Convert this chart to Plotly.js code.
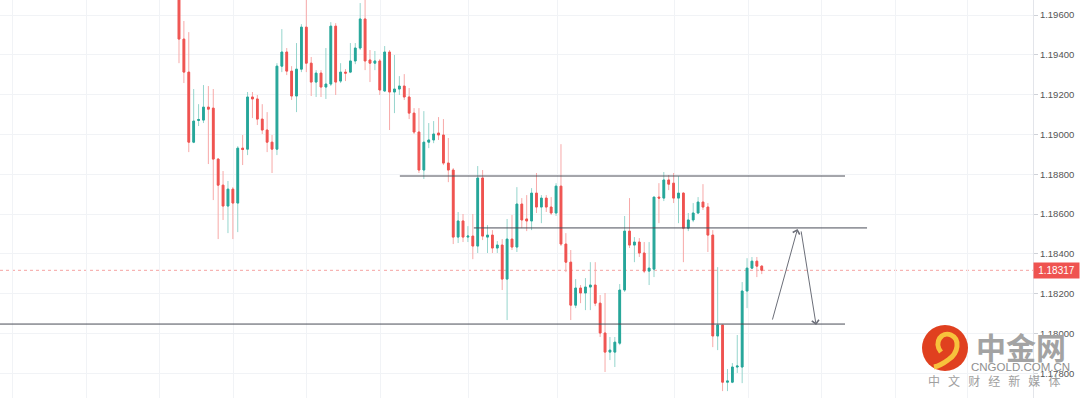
<!DOCTYPE html>
<html><head><meta charset="utf-8">
<script src="https://cdn.plot.ly/plotly-3.0.1.min.js"></script>
<style>html,body{margin:0;padding:0;background:#fff;}#chart{width:1080px;height:398px;}</style>
</head><body><div id="chart"></div>
<script>
// EUR/USD hourly candles
const open = [1.19715,1.19479,1.19313,1.18961,1.19070,1.19072,1.19137,1.19132,1.18876,1.18745,
1.18640,1.18725,1.18655,1.18931,1.18926,1.19188,1.19178,1.19077,1.19022,1.18961,
1.18926,1.19343,1.19414,1.19318,1.19193,1.19328,1.19539,1.19358,1.19263,1.19308,
1.19238,1.19253,1.19544,1.19268,1.19313,1.19313,1.19369,1.19434,1.19580,1.19374,
1.19358,1.19369,1.19218,1.19414,1.19213,1.19228,1.19243,1.19188,1.19107,1.19012,
1.18821,1.18961,1.18972,1.19007,1.18997,1.18856,1.18821,1.18484,1.18565,1.18484,
1.18489,1.18439,1.18781,1.18484,1.18494,1.18429,1.18444,1.18273,1.18474,1.18434,
1.18650,1.18575,1.18565,1.18705,1.18635,1.18680,1.18635,1.18605,1.18740,1.18449,
1.18358,1.18142,1.18228,1.18203,1.18233,1.18243,1.18152,1.18002,1.17906,1.17906,
1.17951,1.18218,1.18514,1.18444,1.18459,1.18404,1.18313,1.18323,1.18685,1.18680,
1.18771,1.18755,1.18680,1.18705,1.18529,1.18570,1.18605,1.18660,1.18635,1.18494,
1.17987,1.18042,1.17755,1.17755,1.17831,1.17831,1.18213,1.18328,1.18363,1.18338];
const high = [1.19750,1.19570,1.19514,1.19228,1.19152,1.19248,1.19243,1.19228,1.18881,1.18816,
1.18766,1.18735,1.18941,1.18997,1.19213,1.19213,1.19198,1.19152,1.19112,1.18997,
1.19358,1.19529,1.19434,1.19343,1.19459,1.19554,1.19690,1.19389,1.19323,1.19323,
1.19434,1.19564,1.19559,1.19358,1.19328,1.19459,1.19459,1.19660,1.19690,1.19424,
1.19419,1.19379,1.19444,1.19424,1.19399,1.19293,1.19303,1.19233,1.19132,1.19132,
1.19117,1.19057,1.19067,1.19087,1.19077,1.18982,1.18831,1.18610,1.18600,1.18539,
1.18600,1.18841,1.18821,1.18544,1.18519,1.18464,1.18474,1.18575,1.18595,1.18735,
1.18680,1.18695,1.18730,1.18806,1.18695,1.18695,1.18685,1.18755,1.18951,1.18504,
1.18419,1.18273,1.18243,1.18278,1.18358,1.18358,1.18193,1.18203,1.17982,1.17982,
1.18248,1.18590,1.18680,1.18484,1.18479,1.18459,1.18459,1.18685,1.18755,1.18811,
1.18796,1.18806,1.18790,1.18710,1.18605,1.18655,1.18685,1.18750,1.18655,1.18519,
1.18333,1.18042,1.17821,1.17851,1.17992,1.18258,1.18378,1.18384,1.18384,1.18343];
const low = [1.19358,1.19258,1.18911,1.18956,1.19042,1.19057,1.18851,1.18670,1.18474,1.18570,
1.18504,1.18474,1.18509,1.18846,1.18896,1.19082,1.19047,1.19002,1.18911,1.18806,
1.18896,1.19313,1.19298,1.19173,1.19112,1.19313,1.19313,1.19193,1.19188,1.19188,
1.19178,1.19243,1.19198,1.19258,1.19268,1.19308,1.19353,1.19424,1.19323,1.19263,
1.19323,1.19198,1.19213,1.19022,1.19107,1.19198,1.19173,1.19077,1.19002,1.18806,
1.18776,1.18931,1.18956,1.18972,1.18846,1.18760,1.18449,1.18454,1.18459,1.18459,
1.18373,1.18404,1.18469,1.18404,1.18404,1.18404,1.18218,1.18067,1.18419,1.18409,
1.18529,1.18514,1.18519,1.18605,1.18554,1.18610,1.18595,1.18590,1.18439,1.18308,
1.18067,1.18127,1.18152,1.18117,1.18117,1.18137,1.17982,1.17806,1.17866,1.17831,
1.17941,1.18208,1.18429,1.18358,1.18384,1.18303,1.18243,1.18283,1.18554,1.18665,
1.18720,1.18655,1.18554,1.18358,1.18514,1.18559,1.18600,1.18620,1.18409,1.17931,
1.17916,1.17710,1.17710,1.17750,1.17801,1.17750,1.18127,1.18323,1.18283,1.18298];
const close = [1.19479,1.19313,1.18961,1.19067,1.19075,1.19137,1.19127,1.18876,1.18745,1.18640,
1.18725,1.18655,1.18931,1.18924,1.19188,1.19178,1.19077,1.19022,1.18961,1.18926,
1.19343,1.19414,1.19318,1.19193,1.19328,1.19539,1.19358,1.19263,1.19308,1.19238,
1.19253,1.19544,1.19263,1.19313,1.19308,1.19369,1.19434,1.19580,1.19369,1.19358,
1.19369,1.19223,1.19414,1.19213,1.19228,1.19243,1.19188,1.19107,1.19012,1.18821,
1.18961,1.18972,1.19002,1.18997,1.18856,1.18821,1.18484,1.18565,1.18484,1.18489,
1.18439,1.18781,1.18489,1.18494,1.18429,1.18444,1.18273,1.18474,1.18434,1.18650,
1.18570,1.18565,1.18705,1.18635,1.18680,1.18635,1.18605,1.18740,1.18449,1.18358,
1.18142,1.18228,1.18203,1.18233,1.18243,1.18152,1.18002,1.17906,1.17916,1.17956,
1.18218,1.18514,1.18444,1.18459,1.18404,1.18313,1.18328,1.18685,1.18680,1.18771,
1.18750,1.18680,1.18705,1.18529,1.18570,1.18605,1.18660,1.18635,1.18494,1.17987,
1.18042,1.17755,1.17761,1.17831,1.17836,1.18213,1.18328,1.18363,1.18338,1.18317];

const priceTicks = [1.178,1.180,1.182,1.184,1.186,1.188,1.190,1.192,1.194,1.196];
const timeGrid = [-33.9,-18.8,-3.9,11.2,26.1,41.2,59.2,77.2,101.1,116.2,131.3,146.4,161.1];

// drawn horizontal levels
const levelPrice = [1.18791, 1.18530, 1.18047];
const levelStart = [45.1, 60.2, -40];
const levelEnd   = [136.0, 140.5, 136.0];

// projected path (index, price)
const pathX = [121.1, 126.3, 130.1];
const pathY = [1.18062, 1.18525, 1.18042];

const idx = open.map((_, i) => i);
const bodyHigh = open.map((o, i) => Math.max(o, close[i]));
const bodyLow  = open.map((o, i) => Math.min(o, close[i]));
const lastPrice = close[close.length - 1];

const UP = '#26a69a', DN = '#ef5350', UPW = '#96d5cd', DNW = '#f7a9a8';

const wicks = {
  type: 'candlestick', x: idx, open: open, high: high, low: low, close: close,
  increasing: {line: {color: UPW, width: 1}, fillcolor: UPW},
  decreasing: {line: {color: DNW, width: 1}, fillcolor: DNW},
  whiskerwidth: 0, hoverinfo: 'skip', showlegend: false
};
const bodies = {
  type: 'candlestick', x: idx, open: open, high: bodyHigh, low: bodyLow, close: close,
  increasing: {line: {color: UP, width: 1}, fillcolor: UP},
  decreasing: {line: {color: DN, width: 1}, fillcolor: DN},
  whiskerwidth: 0, hoverinfo: 'skip', showlegend: false
};

const W = 1033, H = 398;
const px = x => x / W, py = y => 1 - y / H;
const P = (x, y) => px(x) + ',' + py(y);

const shapes = [];
levelPrice.forEach((p, i) => shapes.push({
  type: 'line', xref: 'x', yref: 'y', x0: levelStart[i], x1: levelEnd[i], y0: p, y1: p,
  line: {color: '#4a4d57', width: 1}
}));
shapes.push({type: 'line', xref: 'paper', yref: 'y', x0: 0, x1: 1, y0: lastPrice, y1: lastPrice,
  line: {color: '#f5a3a2', width: 1, dash: 'dot'}, layer: 'below'});
// logo
shapes.push({type: 'circle', xref: 'paper', yref: 'paper', x0: px(922), x1: px(968), y0: py(371), y1: py(325),
  fillcolor: '#e0401f', line: {width: 0}});
shapes.push({type: 'path', xref: 'paper', yref: 'paper',
  path: 'M' + P(941, 352) + ' C' + P(933, 342) + ' ' + P(942, 331) + ' ' + P(951, 335) +
        ' C' + P(960, 339) + ' ' + P(959, 353) + ' ' + P(948, 360) +
        ' C' + P(944, 363) + ' ' + P(939, 366) + ' ' + P(934, 367),
  line: {color: '#f7c23c', width: 5}, fillcolor: 'rgba(0,0,0,0)'});
shapes.push({type: 'circle', xref: 'paper', yref: 'paper', x0: px(944), x1: px(952), y0: py(349), y1: py(341),
  fillcolor: '#e0401f', line: {width: 0}});

const annotations = [
  {xref: 'x', yref: 'y', axref: 'x', ayref: 'y', x: pathX[1], y: pathY[1], ax: pathX[0], ay: pathY[0],
   showarrow: true, arrowhead: 4, arrowsize: 1.4, arrowwidth: 1, arrowcolor: '#6b6e78', text: ''},
  {xref: 'x', yref: 'y', axref: 'x', ayref: 'y', x: pathX[2], y: pathY[2], ax: pathX[1] + 0.7, ay: pathY[1] - 0.00005,
   showarrow: true, arrowhead: 4, arrowsize: 1.4, arrowwidth: 1, arrowcolor: '#6b6e78', text: ''},
  {xref: 'paper', yref: 'y', x: 1, y: lastPrice, xanchor: 'left', yanchor: 'middle', showarrow: false,
   text: lastPrice.toFixed(5), bgcolor: DN, width: 43, height: 13, align: 'center', borderpad: 1,
   font: {family: 'Liberation Sans, Arial, sans-serif', size: 10, color: '#ffffff'}},
  {xref: 'paper', yref: 'paper', x: px(1021), y: py(346), xanchor: 'center', yanchor: 'middle', showarrow: false,
   text: '<b>中金网</b>', font: {family: 'Noto Sans CJK SC', size: 30, color: '#a3a3a3'}},
  {xref: 'paper', yref: 'paper', x: px(1020), y: py(367), xanchor: 'center', yanchor: 'middle', showarrow: false,
   text: 'CNGOLD.COM.CN', font: {family: 'Liberation Sans, Arial, sans-serif', size: 11.5, color: '#8f8f8f'}},
  {xref: 'paper', yref: 'paper', x: px(994), y: py(380), xanchor: 'center', yanchor: 'middle', showarrow: false,
   text: ['中','文','财','经','新','媒','体'].join('\u00a0\u00a0\u00a0'),
   font: {family: 'Noto Sans CJK SC', size: 12, color: '#a0a0a0'}}
];

const layout = {
  width: 1080, height: 398,
  margin: {l: 0, r: 47, t: 0, b: 0, pad: 0},
  paper_bgcolor: '#ffffff', plot_bgcolor: '#ffffff',
  showlegend: false, boxgap: 0.5,
  xaxis: {range: [-36.55, 174.39], showticklabels: false, tickvals: timeGrid, ticks: '',
    showgrid: true, gridcolor: '#f1f3f6', zeroline: false, showline: false,
    rangeslider: {visible: false}, fixedrange: true},
  yaxis: {side: 'right', range: [1.176754, 1.196754], tickvals: priceTicks, tickformat: '.5f',
    showgrid: true, gridcolor: '#f1f3f6', zeroline: false, ticks: 'outside', ticklen: 4,
    tickcolor: '#cfd2d8', showline: true, linecolor: '#e3e5ea', fixedrange: true,
    tickfont: {family: 'Liberation Sans, Arial, sans-serif', size: 9.5, color: '#555555'}},
  shapes: shapes, annotations: annotations
};

Plotly.newPlot('chart', [wicks, bodies], layout, {staticPlot: true, displayModeBar: false});
</script></body></html>
